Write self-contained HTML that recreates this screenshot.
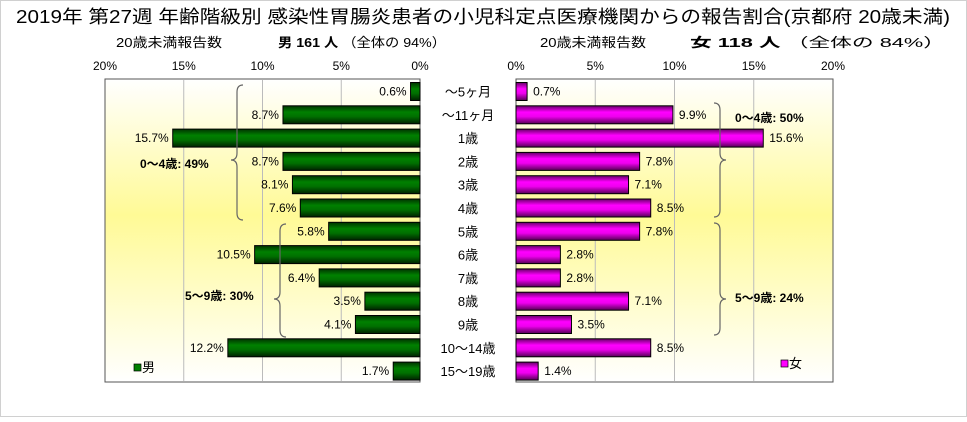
<!DOCTYPE html>
<html><head><meta charset="utf-8"><style>
html,body{margin:0;padding:0;background:#fff}
svg text{font-family:"Liberation Sans","Noto Sans CJK JP",sans-serif}
</style></head><body>
<svg width="967" height="417" viewBox="0 0 967 417" xmlns="http://www.w3.org/2000/svg">
<defs>
<linearGradient id="bg" x1="0" y1="0" x2="0" y2="1">
<stop offset="0" stop-color="#ffffff"/><stop offset="0.45" stop-color="#fffa96"/><stop offset="1" stop-color="#ffffff"/>
</linearGradient>
<linearGradient id="gbar" x1="0" y1="0" x2="0" y2="1">
<stop offset="0" stop-color="#003300"/><stop offset="0.35" stop-color="#008000"/><stop offset="0.6" stop-color="#007000"/><stop offset="1" stop-color="#002200"/>
</linearGradient>
<linearGradient id="mbar" x1="0" y1="0" x2="0" y2="1">
<stop offset="0" stop-color="#660066"/><stop offset="0.35" stop-color="#ff00ff"/><stop offset="0.6" stop-color="#ee00ee"/><stop offset="1" stop-color="#550055"/>
</linearGradient>
</defs>
<rect x="0.5" y="0.5" width="966" height="416" fill="#fff" stroke="#d0d0d0"/>
<text x="16" y="23" font-size="18" textLength="934" lengthAdjust="spacingAndGlyphs">2019年 第27週 年齢階級別 感染性胃腸炎患者の小児科定点医療機関からの報告割合(京都府 20歳未満)</text>
<text x="116" y="47" font-size="13" textLength="106" lengthAdjust="spacingAndGlyphs">20歳未満報告数</text>
<text x="278" y="47" font-size="13" textLength="168" lengthAdjust="spacingAndGlyphs"><tspan font-weight="bold">男 161 人</tspan> （全体の  94%）</text>
<text x="540" y="47" font-size="13" textLength="106" lengthAdjust="spacingAndGlyphs">20歳未満報告数</text>
<text x="690" y="47" font-size="13" textLength="255" lengthAdjust="spacingAndGlyphs"><tspan font-weight="bold">女 118 人</tspan> （全体の  84%）</text>
<rect x="105" y="79" width="315" height="303" fill="url(#bg)" stroke="#555"/>
<rect x="516" y="79" width="317" height="303" fill="url(#bg)" stroke="#555"/>
<g id="grid"></g>
<g id="marks"></g>
<g fill="none" stroke="#666" stroke-width="1.2">
<path d="M243,85 Q237,85 237,92 L237,153 Q237,160 231,160 Q237,160 237,167 L237,213 Q237,220 243,220"/>
<path d="M286,224 Q280,224 280,231 L280,292 Q280,299 274,299 Q280,299 280,306 L280,330 Q280,337 286,337"/>
<path d="M714,103 Q720,103 720,110 L720,153 Q720,160 726,160 Q720,160 720,167 L720,210 Q720,217 714,217"/>
<path d="M714,223 Q720,223 720,230 L720,292 Q720,299 726,299 Q720,299 720,306 L720,328 Q720,335 714,335"/>
</g>
<text x="140" y="168" font-size="12" font-weight="bold">0〜4歳: 49%</text>
<text x="185" y="300" font-size="12" font-weight="bold">5〜9歳: 30%</text>
<text x="735" y="122" font-size="12" font-weight="bold">0〜4歳: 50%</text>
<text x="735" y="302" font-size="12" font-weight="bold">5〜9歳: 24%</text>
<rect x="134" y="364" width="7" height="7" fill="#008000" stroke="#000" stroke-width="0.7"/>
<text x="142" y="372" font-size="13">男</text>
<rect x="781" y="360" width="7" height="7" fill="#ff00ff" stroke="#000" stroke-width="0.7"/>
<text x="789" y="368" font-size="13">女</text>
</svg>
<script>
const categories=["〜5ヶ月","〜11ヶ月","1歳","2歳","3歳","4歳","5歳","6歳","7歳","8歳","9歳","10〜14歳","15〜19歳"];
const maleValues=[0.6,8.7,15.7,8.7,8.1,7.6,5.8,10.5,6.4,3.5,4.1,12.2,1.7];
const femaleValues=[0.7,9.9,15.6,7.8,7.1,8.5,7.8,2.8,2.8,7.1,3.5,8.5,1.4];
const tickValues=[0,5,10,15,20];
const tickLabels=["0%","5%","10%","15%","20%"];
const NS="http://www.w3.org/2000/svg";
const svg=document.querySelector('svg');
const grid=document.getElementById('grid');
const marks=document.getElementById('marks');
function xL(v){return 420-v*315/20;}
function xR(v){return 516+v*317/20;}
function yC(i){return 91.5+i*23.3;}
function mk(tag,attrs,parent){const e=document.createElementNS(NS,tag);for(const k in attrs)e.setAttribute(k,attrs[k]);parent.appendChild(e);return e;}
tickValues.forEach((t,i)=>{
  if(t>0&&t<20){
    const g1=mk('line',{x1:xL(t),x2:xL(t),y1:80,y2:381,stroke:'#bbb'},grid);
    
    
    const g2=mk('line',{x1:xR(t),x2:xR(t),y1:80,y2:381,stroke:'#bbb'},grid);
    
    
  }
  const a=mk('text',{x:xL(t),y:70,'font-size':12,'text-anchor':'middle'},svg);
  a.textContent=tickLabels[i];
  
  
  const b=mk('text',{x:xR(t),y:70,'font-size':12,'text-anchor':'middle'},svg);
  b.textContent=tickLabels[i];
  
  
});
const bh=18;
categories.forEach((c,i)=>{
  const y=yC(i);
  const ct=mk('text',{x:468,y:y+5,'font-size':13,'text-anchor':'middle'},svg);
  ct.textContent=c;
  
  
  const mv=maleValues[i];
  const mb=mk('rect',{x:xL(mv),y:y-bh/2,width:xL(0)-xL(mv),height:bh,fill:'url(#gbar)',stroke:'#000','stroke-width':1},marks);
  
  
  const ml=mk('text',{x:xL(mv)-4,y:y+4,'font-size':12,'text-anchor':'end'},marks);
  ml.textContent=mv.toFixed(1)+'%';
  
  
  const fv=femaleValues[i];
  const fb=mk('rect',{x:xR(0),y:y-bh/2,width:xR(fv)-xR(0),height:bh,fill:'url(#mbar)',stroke:'#000','stroke-width':1},marks);
  
  
  const fl=mk('text',{x:xR(fv)+6,y:y+4,'font-size':12},marks);
  fl.textContent=fv.toFixed(1)+'%';
  
  
});
</script>
</body></html>
